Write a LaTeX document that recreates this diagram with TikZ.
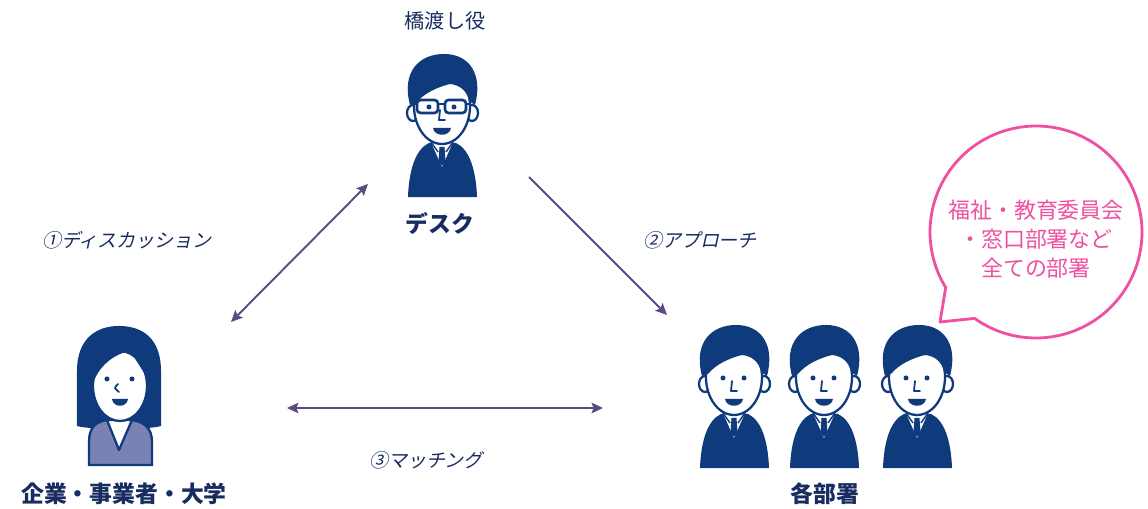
\documentclass[tikz,border=0pt]{standalone}
\usepackage{fontspec}
\setmainfont{Noto Sans CJK JP}
\newfontfamily\slantjp[FakeSlant=0.22]{Noto Sans CJK JP}
\usepackage{tikz}
\usetikzlibrary{arrows.meta}

\definecolor{figblue}{RGB}{15,59,125}
\definecolor{vestblue}{RGB}{122,130,181}
\definecolor{labelnavy}{RGB}{24,44,96}
\definecolor{arrowpurple}{RGB}{93,74,130}
\definecolor{bubblepink}{RGB}{240,80,160}

\tikzset{
  smalllbl/.style={text=labelnavy, inner sep=1pt, font=\fontsize{11.5pt}{13pt}\selectfont},
  namelbl/.style={text=labelnavy, inner sep=1pt, font=\fontsize{13pt}{15pt}\selectfont\bfseries},
  steplbl/.style={text=labelnavy, inner sep=1pt, font=\fontsize{10.8pt}{13pt}\selectfont\slantjp},
  link/.style={draw=arrowpurple, line width=1.1pt},
  tip/.tip={Stealth[length=6.5pt, width=6pt, inset=1.2pt]},
  % man in a suit, drawn in pixel-sized steps from the bottom centre
  staffman/.pic={
    \begin{scope}[scale=0.02, line width=1.3pt, draw=figblue]
      % body
      \fill[figblue] (-34,0) -- (35,0) .. controls (34,28) and (27,48) .. (14,54) -- (-13,54) .. controls (-26,48) and (-33,28) .. (-34,0) -- cycle;
      % collar and tie
      \fill[white] (-11,55) -- (11,55) -- (0,30) -- cycle;
      \fill[figblue] (-2.5,50) -- (2.5,50) -- (3.5,36) -- (0,31) -- (-3.5,36) -- cycle;
      \draw[line width=0.8pt] (-11,55) -- (-4,45) (11,55) -- (4,45);
      % ears and face
      \filldraw[fill=white] (-29,84) ellipse (6 and 8);
      \filldraw[fill=white] (30,84) ellipse (6 and 8);
      \filldraw[fill=white] (0,91) ellipse (28 and 38);
      % hair
      \fill[figblue] (-32,92) .. controls (-41,126) and (-22,143) .. (2,143) .. controls (28,143) and (41,122) .. (33,92) -- (27,96) .. controls (25,106) and (18,112) .. (8,113) .. controls (-4,110) and (-18,104) .. (-26,94) -- cycle;
      % eyes, nose, mouth
      \fill[figblue] (-11,90) circle (2.5) (10,90) circle (2.5);
      \draw[line width=1pt, line cap=round, line join=round] (-2,87) -- (-3,77) -- (3,77);
      \fill[figblue] (-9,69) .. controls (-8,60) and (8,60) .. (9,69) -- cycle;
    \end{scope}
  },
  % same man with glasses
  deskman/.pic={
    \pic {staffman};
    \begin{scope}[scale=0.02, line width=1.5pt, draw=figblue]
      \draw[fill=white, rounded corners=2] (-25,84) rectangle (-4,97);
      \draw[fill=white, rounded corners=2] (3,84) rectangle (24,97);
      \draw (-4,93) -- (3,93) (-25,93) -- (-29,93) (24,93) -- (28,93);
      \fill[figblue] (-13,90) circle (2.5) (12,90) circle (2.5);
    \end{scope}
  },
  % woman with a bob and a vest
  partnerwoman/.pic={
    \begin{scope}[scale=0.02, line width=1.3pt, draw=figblue]
      % hair behind the face
      \fill[figblue] (-43,40) -- (-43,95) .. controls (-43,127) and (-24,140) .. (-1,140) .. controls (23,140) and (41,127) .. (41,95) -- (41,40) .. controls (28,36) and (-30,36) .. (-43,40) -- cycle;
      % neck, vest, blouse
      \fill[white] (-11,34) rectangle (10,52);
      \filldraw[fill=vestblue] (-31,1) -- (32,1) -- (32,24) .. controls (32,38) and (24,44) .. (12,46) -- (-13,46) .. controls (-25,44) and (-31,38) .. (-31,24) -- cycle;
      \filldraw[fill=white, line join=round] (-13,46) -- (12,46) -- (-1,16) -- cycle;
      % face and fringe
      \filldraw[fill=white] (0,80) ellipse (27 and 35);
      \fill[figblue] (-28,80) .. controls (-22,100) and (-6,112) .. (10,115) .. controls (16,106) and (21,98) .. (26,90) -- (30,92) -- (30,126) -- (-30,126) -- cycle;
      % eyes, nose, mouth
      \fill[figblue] (-13,87) circle (2.5) (12,87) circle (2.5);
      \draw[line width=1pt, line cap=round] (-2,82) .. controls (-6,78) .. (-1,74);
      \fill[figblue] (-8,67) .. controls (-7,58) and (7,58) .. (8,67) -- cycle;
    \end{scope}
  }
}

\begin{document}
\begin{tikzpicture}
  \useasboundingbox (-11.48,-5.08) rectangle (11.48,5.08);

  % people
  \node[smalllbl] (role) at (-2.58,4.66) {橋渡し役};
  \pic at (-2.64,1.14) {deskman};
  \node[namelbl] (desk) at (-2.68,0.62) {デスク};

  \pic at (-9.08,-4.24) {partnerwoman};
  \node[namelbl] (partners) at (-9.0,-4.8) {企業・事業者・大学};

  \pic at (3.2,-4.28) {staffman};
  \pic at (5.0,-4.28) {staffman};
  \pic at (6.86,-4.28) {staffman};
  \node[namelbl] (depts) at (5.02,-4.8) {各部署};

  % steps between them
  \coordinate (talk-a) at (-6.86,-1.36);
  \coordinate (talk-b) at (-4.12,1.40);
  \coordinate (appr-a) at (-0.90,1.54);
  \coordinate (appr-b) at (1.86,-1.22);
  \coordinate (match-a) at (-5.74,-3.08);
  \coordinate (match-b) at (0.58,-3.08);
  \draw[link, tip-tip] (talk-a) -- (talk-b);
  \draw[link, -tip] (appr-a) -- (appr-b);
  \draw[link, tip-tip] (match-a) -- (match-b);
  \node[steplbl] (talk) at (-8.94,0.28) {①ディスカッション};
  \node[steplbl] (approach) at (2.52,0.28) {②アプローチ};
  \node[steplbl] (match) at (-2.96,-4.12) {③マッチング};

  % speech bubble
  \coordinate (bubc) at (9.24,0.44);
  \coordinate (bubtip) at (7.32,-1.36);
  \draw[bubblepink, line width=1.6pt, fill=white, line join=round] (bubtip) -- ([shift={(234.6:2.12)}]bubc) arc[start angle=234.6, end angle=571.6, radius=2.12] -- cycle;
  \node[text=bubblepink, align=center, font=\fontsize{12.5pt}{16.5pt}\selectfont] (bubtext) at (9.24,0.30) {福祉・教育委員会\\・窓口部署など\\全ての部署};
\end{tikzpicture}
\end{document}
